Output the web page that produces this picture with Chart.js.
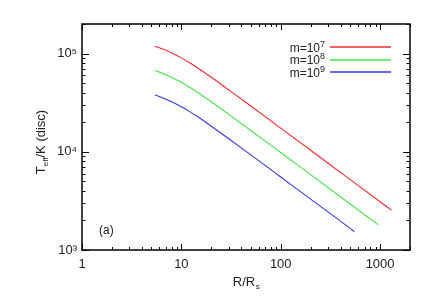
<!DOCTYPE html>
<html>
<head>
<meta charset="utf-8">
<script src="https://cdn.jsdelivr.net/npm/chart.js@4.4.1/dist/chart.umd.min.js"></script>
<style>
  html, body { margin: 0; padding: 0; background: #fff; }
  #wrap { width: 436px; height: 300px; position: relative; }
</style>
</head>
<body>
<div id="wrap"><canvas id="myChart"></canvas></div>
<script>
// radii (R/Rs) and effective temperatures
const redR   = [5.4, 6, 7, 8, 10, 12, 15, 20, 30, 50, 100, 200, 500, 1000, 1300];
const redT   = [119000, 114700, 107800, 101500, 90400, 81000, 70100, 57300, 42650, 29230, 17430, 10370, 5210, 3100, 2550];
const greenR = [5.4, 6, 7, 8, 10, 12, 15, 20, 30, 50, 100, 200, 500, 960];
const greenT = [67100, 64700, 60800, 57200, 51000, 45700, 39500, 32300, 24050, 16490, 9830, 5850, 2940, 1800];
const blueR  = [5.4, 6, 7, 8, 10, 12, 15, 20, 30, 50, 100, 200, 500, 550];
const blueT  = [37800, 36500, 34300, 32300, 28700, 25800, 22300, 18200, 13560, 9300, 5540, 3300, 1660, 1540];

const massExp = ['7', '8', '9'];
const colors = ['rgb(255,40,40)', 'rgb(70,230,70)', 'rgb(55,55,235)'];

const xDecades = [1, 10, 100, 1000];
const yDecades = [1000, 10000, 100000];
const xMin = 1, xMax = 2000;
const yMin = 1000, yMax = 200000;

const FONT = '"Liberation Sans", Arial, sans-serif';
const TXT = '#222';
const SUP = { '3': '\u00b3', '4': '\u2074', '5': '\u2075' };

function pts(xs, ys) { return xs.map((x, i) => ({ x: x, y: ys[i] })); }

function logTicks(decades, max) {
  const out = [];
  decades.forEach(d => { for (let k = 1; k <= 9; k++) { if (d * k <= max) out.push({ value: d * k }); } });
  return out;
}

function isDecade(v) { const l = Math.log10(v); return Math.abs(l - Math.round(l)) < 1e-9; }

// frame, inward ticks, titles, legend, panel label
const decor = {
  id: 'decor',
  afterDraw(chart) {
    const ctx = chart.ctx, a = chart.chartArea;
    const xs = chart.scales.x, ys = chart.scales.y;
    ctx.save();
    ctx.strokeStyle = '#000';
    ctx.lineWidth = 1.5;
    ctx.strokeRect(a.left, a.top, a.right - a.left, a.bottom - a.top);
    ctx.lineWidth = 1;
    ctx.beginPath();
    xs.ticks.forEach(t => {
      const p = Math.round(xs.getPixelForValue(t.value)) + 0.5;
      const len = isDecade(t.value) ? 6 : 3;
      ctx.moveTo(p, a.bottom); ctx.lineTo(p, a.bottom - len);
      ctx.moveTo(p, a.top); ctx.lineTo(p, a.top + len);
    });
    ys.ticks.forEach(t => {
      const p = Math.round(ys.getPixelForValue(t.value)) + 0.5;
      const len = isDecade(t.value) ? 7 : 3.5;
      ctx.moveTo(a.left, p); ctx.lineTo(a.left + len, p);
      ctx.moveTo(a.right, p); ctx.lineTo(a.right - len, p);
    });
    ctx.stroke();

    ctx.fillStyle = TXT;
    ctx.textBaseline = 'alphabetic';
    // x title R/Rs
    ctx.font = '13px ' + FONT;
    const w1 = ctx.measureText('R/R').width;
    ctx.font = '8px ' + FONT;
    const w2 = ctx.measureText('s').width;
    let cx = (a.left + a.right) / 2 - (w1 + w2) / 2;
    ctx.font = '13px ' + FONT;
    ctx.textAlign = 'left';
    ctx.fillText('R/R', cx, 286);
    ctx.font = '8px ' + FONT;
    ctx.fillText('s', cx + w1 + 0.5, 289);

    // y title T_eff/K (disc)
    ctx.save();
    ctx.translate(45, 142);
    ctx.rotate(-Math.PI / 2);
    ctx.font = '13px ' + FONT;
    const tw = ctx.measureText('T').width;
    const rw = ctx.measureText('/K (disc)').width;
    ctx.font = '8px ' + FONT;
    const ew = ctx.measureText('eff').width;
    let sx = -(tw + ew + rw) / 2;
    ctx.font = '13px ' + FONT;
    ctx.fillText('T', sx, 0);
    ctx.font = '8px ' + FONT;
    ctx.fillText('eff', sx + tw, 3);
    ctx.font = '13px ' + FONT;
    ctx.fillText('/K (disc)', sx + tw + ew, 0);
    ctx.restore();

    // legend
    massExp.forEach((e, i) => {
      const y = 47 + i * 12.5;
      const base = 'm=10';
      ctx.font = '9px ' + FONT;
      const ew2 = ctx.measureText(e).width;
      ctx.font = '12px ' + FONT;
      const bw = ctx.measureText(base).width;
      const right = 325;
      ctx.fillStyle = TXT;
      ctx.fillText(base, right - ew2 - bw, y + 4.5);
      ctx.font = '9px ' + FONT;
      ctx.fillText(e, right - ew2, y - 0.5);
      ctx.strokeStyle = colors[i];
      ctx.lineWidth = 1.4;
      ctx.beginPath();
      ctx.moveTo(330, Math.round(y));
      ctx.lineTo(391, Math.round(y));
      ctx.stroke();
    });

    // panel label
    ctx.font = '12px ' + FONT;
    ctx.fillStyle = TXT;
    ctx.fillText('(a)', 99, 234);
    ctx.restore();
  }
};

new Chart(document.getElementById('myChart').getContext('2d'), {
  type: 'line',
  data: {
    datasets: [
      { label: 'm=10^7', data: pts(redR, redT), borderColor: colors[0] },
      { label: 'm=10^8', data: pts(greenR, greenT), borderColor: colors[1] },
      { label: 'm=10^9', data: pts(blueR, blueT), borderColor: colors[2] }
    ].map(d => Object.assign(d, { borderWidth: 1.1, pointRadius: 0, fill: false, cubicInterpolationMode: 'monotone' }))
  },
  options: {
    responsive: true,
    maintainAspectRatio: false,
    animation: false,
    layout: { padding: { top: 24, right: 26, left: 0, bottom: 0 } },
    plugins: { legend: { display: false }, tooltip: { enabled: false } },
    scales: {
      x: {
        type: 'logarithmic',
        min: xMin, max: xMax,
        grid: { display: false, drawTicks: false },
        border: { display: false },
        afterBuildTicks: s => { s.ticks = logTicks(xDecades, xMax); },
        afterFit: s => { s.height = 50; },
        ticks: {
          autoSkip: false, maxRotation: 0, padding: 7,
          color: TXT, font: { family: FONT, size: 13 },
          callback: v => isDecade(v) ? String(v) : ''
        }
      },
      y: {
        type: 'logarithmic',
        min: yMin, max: yMax,
        grid: { display: false, drawTicks: false },
        border: { display: false },
        afterBuildTicks: s => { s.ticks = logTicks(yDecades, yMax); },
        afterFit: s => { s.width = 82; },
        ticks: {
          autoSkip: false, padding: 5,
          color: TXT, font: { family: FONT, size: 13 },
          callback: v => isDecade(v) ? '10' + SUP[String(Math.round(Math.log10(v)))] : ''
        }
      }
    }
  },
  plugins: [decor]
});
</script>
</body>
</html>
